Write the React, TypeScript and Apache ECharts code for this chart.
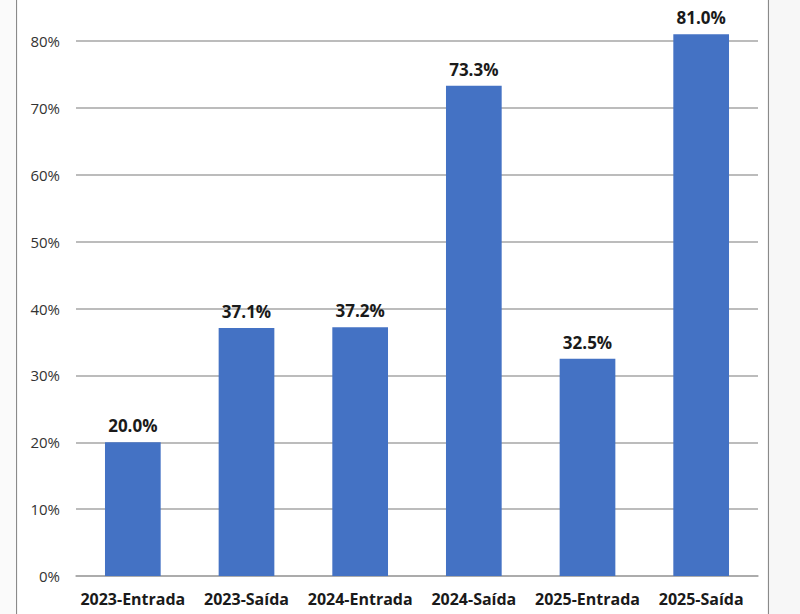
import React, { useEffect, useRef } from "react";
import * as echarts from "echarts";

const categories = ["2023-Entrada", "2023-Saída", "2024-Entrada", "2024-Saída", "2025-Entrada", "2025-Saída"];
const values = [20.0, 37.1, 37.2, 73.3, 32.5, 81.0];
const yTicks = [0, 10, 20, 30, 40, 50, 60, 70, 80];

export default function App() {
  const ref = useRef<HTMLDivElement>(null);
  useEffect(() => {
    const chart = echarts.init(ref.current!, null, { renderer: "svg" });
    chart.setOption({
      animation: false,
      backgroundColor: "#ffffff",
      textStyle: { fontFamily: "Open Sans" },
      grid: { left: 76, right: 42, top: 41, bottom: 38, containLabel: false },
      graphic: [
        {
          type: "line",
          shape: { x1: 16.5, y1: 0, x2: 16.5, y2: 614 },
          style: { stroke: "#8a8a8a", lineWidth: 1.2 },
        },
        {
          type: "line",
          shape: { x1: 768.5, y1: 0, x2: 768.5, y2: 614 },
          style: { stroke: "#8a8a8a", lineWidth: 1.2 },
        },
        {
          type: "rect",
          shape: { x: 770, y: 0, width: 30, height: 614 },
          style: { fill: "#f7f7f7" },
        },
        {
          type: "rect",
          shape: { x: 0, y: 0, width: 16, height: 614 },
          style: { fill: "#fafafa" },
        },
      ],
      xAxis: {
        type: "category",
        data: categories,
        axisLine: { show: true, lineStyle: { color: "#a6a6a6", width: 1.5 } },
        axisTick: { show: false },
        axisLabel: {
          color: "#1a1a1a",
          fontSize: 16,
          fontWeight: "bold",
          fontFamily: "Open Sans",
          margin: 15,
          interval: 0,
        },
      },
      yAxis: {
        type: "value",
        min: yTicks[0],
        max: yTicks[yTicks.length - 1],
        interval: 10,
        axisLine: { show: false },
        axisTick: { show: false },
        splitLine: { show: true, lineStyle: { color: "#a6a6a6", width: 1.5 } },
        axisLabel: {
          color: "#333333",
          fontSize: 15,
          fontFamily: "Open Sans",
          margin: 16,
          formatter: (v: number) => `${v}%`,
        },
      },
      series: [
        {
          type: "bar",
          data: values,
          barWidth: "49%",
          clip: false,
          itemStyle: { color: "#4472C4" },
          label: {
            show: true,
            position: "top",
            distance: 8,
            color: "#1a1a1a",
            fontSize: 17,
            fontWeight: "bold",
            fontFamily: "Open Sans",
            formatter: (p: any) => `${p.value.toFixed(1)}%`,
          },
        },
      ],
    });
    return () => chart.dispose();
  }, []);
  return <div ref={ref} style={{ width: 800, height: 614, position: "absolute", left: 0, top: 0 }} />;
}
